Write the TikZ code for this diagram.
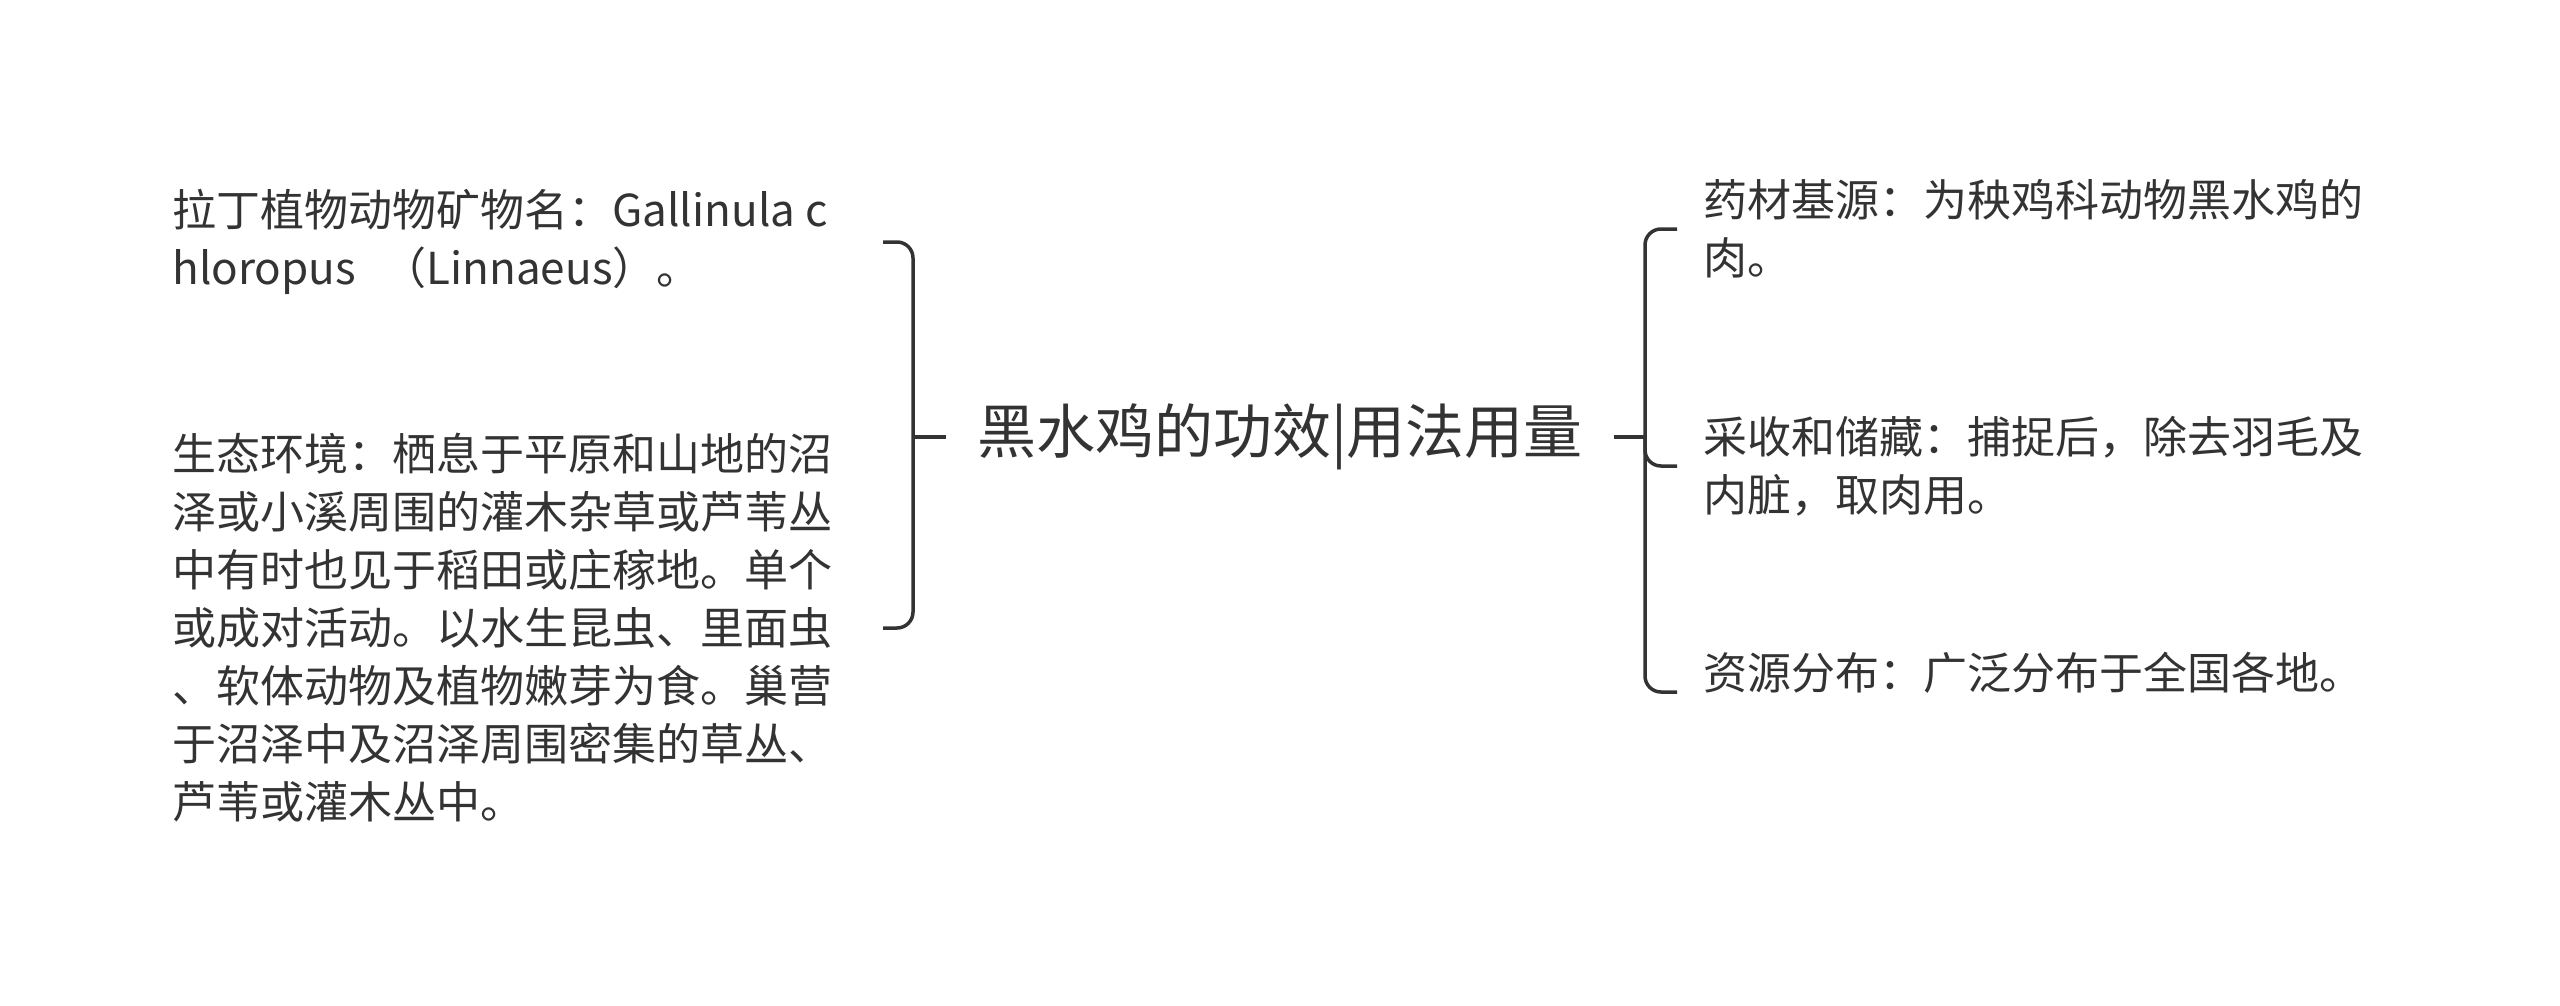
\documentclass[tikz,border=0pt]{standalone}
\usepackage{fontspec}
\setmainfont{Noto Sans CJK SC}
\definecolor{ink}{HTML}{333333}
\begin{document}
\begin{tikzpicture}[x=0.5pt,y=-0.5pt,
  txt/.style={font=\fontsize{22pt}{29pt}\selectfont, text=ink, align=left, inner sep=0pt},
  rootnode/.style={font=\fontsize{29.5pt}{36pt}\selectfont, text=ink, inner xsep=15.5pt, inner ysep=0pt},
  brace/.style={draw=ink, line width=1.75pt, rounded corners=8pt}]
\useasboundingbox[fill=white] (0,0) rectangle (2560,1006);

\node[rootnode] (root) at (1280,437) {黑水鸡的功效|用法用量};

\node[txt, anchor=west] (l1) at (172,242) {拉丁植物动物矿物名：Gallinula c\\hloropus\hspace{0.6em}（Linnaeus）。};
\node[txt, anchor=west] (l2) at (172,628) {生态环境：栖息于平原和山地的沼\\泽或小溪周围的灌木杂草或芦苇丛\\中有时也见于稻田或庄稼地。单个\\或成对活动。以水生昆虫、里面虫\\、软体动物及植物嫩芽为食。巢营\\于沼泽中及沼泽周围密集的草丛、\\芦苇或灌木丛中。};

\node[txt, anchor=west] (r1) at (1703,229) {药材基源：为秧鸡科动物黑水鸡的\\肉。};
\node[txt, anchor=west] (r2) at (1703,466) {采收和储藏：捕捉后，除去羽毛及\\内脏，取肉用。};
\node[txt, anchor=west] (r3) at (1703,673) {资源分布：广泛分布于全国各地。};

\coordinate (lj) at (913,437);
\coordinate (rj) at (1645,437);
\coordinate (lx) at (883,0);

\draw[brace] (root.west) -- (lj);
\draw[brace] (lj) |- (l1 -| lx);
\draw[brace] (lj) |- (l2 -| lx);

\draw[brace] (root.east) -- (rj);
\draw[brace] (rj) |- ([xshift=-13pt]r1.west);
\draw[brace] (rj) |- ([xshift=-13pt]r2.west);
\draw[brace] (rj) |- ([xshift=-13pt,yshift=-9.5pt]r3.west);
\end{tikzpicture}
\end{document}
